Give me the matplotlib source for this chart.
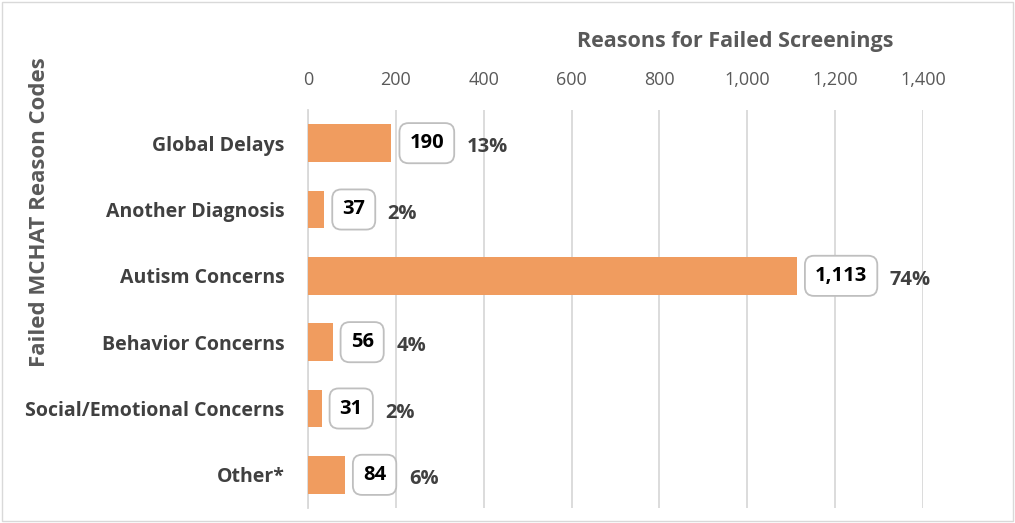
import matplotlib
matplotlib.use("Agg")
import matplotlib.pyplot as plt
from matplotlib.patches import Rectangle

plt.rcParams['font.family'] = ['Open Sans', 'DejaVu Sans']

categories = ["Global Delays", "Another Diagnosis", "Autism Concerns",
              "Behavior Concerns", "Social/Emotional Concerns", "Other*"]
counts = [190, 37, 1113, 56, 31, 84]
percents = ["13%", "2%", "74%", "4%", "2%", "6%"]
xticks = [0, 200, 400, 600, 800, 1000, 1200, 1400]

bar_color = "#F09C5F"
grid_color = "#D9D9D9"
text_gray = "#595959"

fig = plt.figure(figsize=(10.15, 5.23), dpi=100)
ax = fig.add_axes([308 / 1015, 1 - 508 / 523, (923 - 308) / 1015, 398 / 523])

y = list(range(len(categories)))
ax.barh(y, counts, height=0.57, color=bar_color, zorder=3)
ax.set_xlim(0, 1400)
ax.set_ylim(len(categories) - 0.5, -0.5)

ax.set_xticks(xticks)
ax.set_xticklabels([f"{v:,}" for v in xticks], fontsize=13, color=text_gray)
ax.xaxis.tick_top()
ax.tick_params(axis="x", length=0, pad=15)
ax.tick_params(axis="y", length=0, pad=17)
ax.set_yticks(y)
ax.set_yticklabels(categories, fontsize=14, fontweight="bold", color="#404040")
ax.grid(axis="x", color=grid_color, linewidth=1.3, zorder=0)
for s in ["top", "right", "bottom"]:
    ax.spines[s].set_visible(False)
ax.spines["left"].set_color(grid_color)
ax.spines["left"].set_linewidth(1.3)

ax.text((735 - 308) / 615, 1 + 68 / 398, "Reasons for Failed Screenings",
        transform=ax.transAxes, fontsize=15.5, fontweight="bold",
        color=text_gray, ha="center", va="center")
fig.text(40 / 1015, 1 - 212 / 523, "Failed MCHAT Reason Codes", rotation=90,
         fontsize=16, fontweight="bold", color=text_gray, ha="center", va="center")

# value boxes
boxes = []
for yi, v in zip(y, counts):
    t = ax.annotate(f"{v:,}", (v, yi), xytext=(13, 0), textcoords="offset points",
                    ha="left", va="center", fontsize=14.5, fontweight="bold", color="black",
                    bbox=dict(boxstyle="round,pad=0.5,rounding_size=0.45", fc="white",
                              ec="#BFBFBF", lw=1.3), zorder=5)
    boxes.append(t)

fig.canvas.draw()
r = fig.canvas.get_renderer()
inv = ax.transData.inverted()
for t, yi, p in zip(boxes, y, percents):
    bb = t.get_bbox_patch().get_window_extent(r)
    x_end = inv.transform((bb.x1, 0))[0]
    ax.annotate(p, (x_end, yi), xytext=(9, -3), textcoords="offset points",
                ha="left", va="center", fontsize=14.5, fontweight="bold",
                color="#404040", annotation_clip=False, zorder=5)

# light border around the figure
fig.patches.append(Rectangle((0.002, 0.003), 0.996, 0.994, transform=fig.transFigure,
                             fill=False, ec="#D9D9D9", lw=1))

fig.savefig("out.png", dpi=100)
